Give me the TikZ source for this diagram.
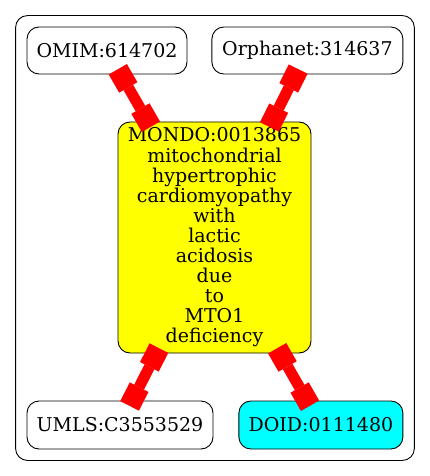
\documentclass[tikz,border=0pt]{standalone}
\usepackage{fontspec}
\setmainfont{DejaVu Serif}
\usepackage{tikz}
\usetikzlibrary{arrows.meta,positioning,fit}
\definecolor{hubyellow}{RGB}{255,255,0}
\definecolor{altcyan}{RGB}{0,255,255}
\definecolor{linkred}{RGB}{255,0,0}
\tikzset{
  term/.style={rectangle, rounded corners=12pt, draw=black, line width=0.9pt,
    minimum height=47pt, inner sep=0pt, align=center,
    font=\fontsize{19pt}{20.1pt}\selectfont, fill=white},
  hub/.style={term, fill=hubyellow, minimum width=193pt, minimum height=231pt},
  alt/.style={term, fill=altcyan},
  cluster/.style={rectangle, rounded corners=12pt, draw=black, line width=0.9pt,
    inner sep=11pt},
  link/.style={{Square[length=21pt,width=21pt,line width=0pt]}-{Square[length=21pt,width=21pt,line width=0pt]},
    draw=linkred, line width=11pt, shorten <=-6pt, shorten >=-6pt},
}
\begin{document}
\begin{tikzpicture}[x=1pt, y=-1pt]
\useasboundingbox (0,0) rectangle (429,476);

\node[hub] (mondo) at (214.5,237.5) {MONDO:0013865\\mitochondrial\\hypertrophic\\cardiomyopathy\\with\\lactic\\acidosis\\due\\to\\MTO1\\deficiency};
\node[term, minimum width=160pt] (omim) at (107,50.5) {OMIM:614702};
\node[term, minimum width=191pt, right=24pt of omim] (orpha) {Orphanet:314637};
\node[term, minimum width=186pt, minimum height=48pt] (umls) at (120,425) {UMLS:C3553529};
\node[alt, minimum width=164pt, minimum height=48pt, right=25pt of umls] (doid) {DOID:0111480};

\node[cluster, fit=(omim)(orpha)(mondo)(umls)(doid)] (box) {};

\draw[link] (omim) -- (mondo);
\draw[link] (orpha) -- (mondo);
\draw[link] (mondo) -- (umls);
\draw[link] (mondo) -- (doid);
\end{tikzpicture}
\end{document}
